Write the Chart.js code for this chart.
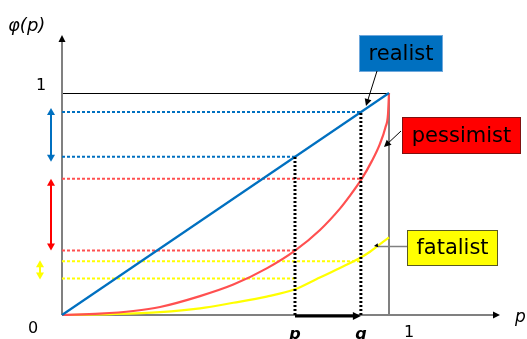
<!DOCTYPE html>
<html>
<head>
<meta charset="utf-8">
<script src="https://cdn.jsdelivr.net/npm/chart.js@4/dist/chart.umd.min.js"></script>
<style>
html,body{margin:0;padding:0;background:#fff;}
#wrap{width:527px;height:339px;position:relative;}
</style>
</head>
<body>
<div id="wrap"><canvas id="c"></canvas></div>
<script>
// ---- data ----
const pValue = 0.7125;
const qValue = 0.914;
const realistX = [0, 1];
const realistY = [0, 1];
const pessimistX = [0, 0.116, 0.218, 0.3, 0.422, 0.524, 0.626, 0.7125, 0.789, 0.85, 0.879, 0.917, 0.947, 0.972, 0.989, 0.997, 1];
const pessimistY = [0, 0.006, 0.018, 0.036, 0.085, 0.137, 0.21, 0.29, 0.383, 0.479, 0.534, 0.614, 0.692, 0.77, 0.845, 0.905, 1];
const fatalistX = [0, 0.15, 0.3, 0.422, 0.524, 0.626, 0.7125, 0.779, 0.85, 0.911, 0.942, 1];
const fatalistY = [0, 0.004, 0.013, 0.030, 0.055, 0.083, 0.116, 0.162, 0.212, 0.257, 0.285, 0.35];
const realistLevels = [0.7125, 0.914];     // at p, at q
const pessimistLevels = [0.29, 0.614];     // at p, at q
const fatalistLevels = [0.164, 0.242];     // at p, at q
const xTickLabels = ['p', 'q', '1'];
const yTickLabels = ['0', '1'];
const seriesNames = ['realist', 'pessimist', 'fatalist'];

const BLUE = '#0070C0', RED = '#FF5050', YEL = '#FFFF00';

function pts(xs, ys){ return xs.map((x,i)=>({x:x, y:ys[i]})); }
function hline(level, xEnd){ return [{x:0,y:level},{x:xEnd,y:level}]; }

const datasets = [
  {data: pts(realistX, realistY), borderColor: BLUE, borderWidth: 2.2, order: 1},
  {data: pts(pessimistX, pessimistY), borderColor: RED, borderWidth: 2.2, cubicInterpolationMode: 'monotone', order: 1},
  {data: pts(fatalistX, fatalistY), borderColor: YEL, borderWidth: 2.2, cubicInterpolationMode: 'monotone', order: 1},
  {data: hline(realistLevels[0], pValue), borderColor: BLUE, borderWidth: 2, borderDash: [3,2], order: 2},
  {data: hline(realistLevels[1], qValue), borderColor: BLUE, borderWidth: 2, borderDash: [3,2], order: 2},
  {data: hline(pessimistLevels[0], pValue), borderColor: RED, borderWidth: 2, borderDash: [3,2], order: 2},
  {data: hline(pessimistLevels[1], qValue), borderColor: RED, borderWidth: 2, borderDash: [3,2], order: 2},
  {data: hline(fatalistLevels[0], pValue), borderColor: YEL, borderWidth: 2, borderDash: [3,2], order: 2},
  {data: hline(fatalistLevels[1], qValue), borderColor: YEL, borderWidth: 2, borderDash: [3,2], order: 2},
  {data: [{x:pValue,y:0},{x:pValue,y:realistLevels[0]}], borderColor: '#000', borderWidth: 3, borderDash: [2,2], order: 0},
  {data: [{x:qValue,y:0},{x:qValue,y:realistLevels[1]}], borderColor: '#000', borderWidth: 3, borderDash: [2,2], order: 0}
].map(d => Object.assign({pointRadius: 0, fill: false, tension: 0}, d));

function arrowHead(ctx, x1, y1, x2, y2, len, half, color){
  const a = Math.atan2(y2-y1, x2-x1);
  ctx.save();
  ctx.fillStyle = color;
  ctx.beginPath();
  ctx.moveTo(x2, y2);
  ctx.lineTo(x2 - len*Math.cos(a) + half*Math.sin(a), y2 - len*Math.sin(a) - half*Math.cos(a));
  ctx.lineTo(x2 - len*Math.cos(a) - half*Math.sin(a), y2 - len*Math.sin(a) + half*Math.cos(a));
  ctx.closePath();
  ctx.fill();
  ctx.restore();
}
function arrow(ctx, x1, y1, x2, y2, color, w, len, half){
  ctx.save();
  ctx.strokeStyle = color; ctx.lineWidth = w;
  const a = Math.atan2(y2-y1, x2-x1);
  ctx.beginPath(); ctx.moveTo(x1, y1); ctx.lineTo(x2 - len*0.6*Math.cos(a), y2 - len*0.6*Math.sin(a)); ctx.stroke();
  ctx.restore();
  arrowHead(ctx, x1, y1, x2, y2, len, half, color);
}
function dblArrow(ctx, x, y1, y2, color){
  ctx.save();
  ctx.strokeStyle = color; ctx.lineWidth = 2;
  ctx.beginPath(); ctx.moveTo(x, y1+5); ctx.lineTo(x, y2-5); ctx.stroke();
  ctx.restore();
  arrowHead(ctx, x, y2, x, y1, 7, 4, color);
  arrowHead(ctx, x, y1, x, y2, 7, 4, color);
}
function box(ctx, x, y, w, h, fill, stroke, text){
  ctx.save();
  ctx.fillStyle = fill; ctx.fillRect(x, y, w, h);
  ctx.strokeStyle = stroke; ctx.lineWidth = 1; ctx.strokeRect(x+0.5, y+0.5, w-1, h-1);
  ctx.fillStyle = '#000'; ctx.font = '21px "DejaVu Sans"';
  ctx.textAlign = 'center'; ctx.textBaseline = 'middle';
  ctx.fillText(text, x + w/2, y + h/2 + 1);
  ctx.restore();
}

const decor = {
  id: 'decor',
  beforeDatasetsDraw(chart){
    const ctx = chart.ctx, xs = chart.scales.x, ys = chart.scales.y;
    const X = v => xs.getPixelForValue(v), Y = v => ys.getPixelForValue(v);
    ctx.save();
    // frame
    ctx.strokeStyle = '#000'; ctx.lineWidth = 1;
    ctx.beginPath(); ctx.moveTo(X(0), Math.round(Y(1))+0.5); ctx.lineTo(X(1), Math.round(Y(1))+0.5); ctx.stroke();
    ctx.strokeStyle = '#808080'; ctx.lineWidth = 2;
    ctx.beginPath(); ctx.moveTo(X(1), Y(1)); ctx.lineTo(X(1), Y(0)); ctx.stroke();
    // axes
    ctx.beginPath(); ctx.moveTo(X(0), Y(0)); ctx.lineTo(X(0), 40); ctx.stroke();
    ctx.beginPath(); ctx.moveTo(X(0), Y(0)); ctx.lineTo(494, Y(0)); ctx.stroke();
    ctx.restore();
    arrowHead(ctx, X(0), 60, X(0), 35, 7, 3.5, '#000');
    arrowHead(ctx, 470, Y(0), 500, Y(0), 7, 3.5, '#000');
  },
  afterDatasetsDraw(chart){
    const ctx = chart.ctx, xs = chart.scales.x, ys = chart.scales.y;
    const X = v => xs.getPixelForValue(v), Y = v => ys.getPixelForValue(v);
    // p -> q arrow on the x axis
    arrow(ctx, X(pValue), Y(0)+1, X(qValue), Y(0)+1, '#000', 3, 8, 4);
    // left double arrows
    dblArrow(ctx, 51, Y(realistLevels[1])-4, Y(realistLevels[0])+5, BLUE);
    dblArrow(ctx, 51, Y(pessimistLevels[1]), Y(pessimistLevels[0]), '#FF0000');
    dblArrow(ctx, 40, Y(fatalistLevels[1])-1, Y(fatalistLevels[0])+1, YEL);
    // label boxes
    box(ctx, 359, 35, 84, 37, BLUE, '#6fa8dc', seriesNames[0]);
    arrow(ctx, 377, 71, 366, 106, '#000', 1, 7, 3.5);
    box(ctx, 402, 117, 119, 37, '#FF0000', '#7f1010', seriesNames[1]);
    arrow(ctx, 401, 131, 384, 147, '#000', 1, 7, 3.5);
    box(ctx, 407, 230, 91, 36, YEL, '#5a5a20', seriesNames[2]);
    ctx.save();
    ctx.strokeStyle = '#808080'; ctx.lineWidth = 1.5;
    ctx.beginPath(); ctx.moveTo(407, 246.5); ctx.lineTo(378, 246.5); ctx.stroke();
    ctx.restore();
    arrowHead(ctx, 380, 245, 374, 246, 4, 2, '#000');
    // texts
    ctx.save();
    ctx.fillStyle = '#000';
    ctx.font = '16px "DejaVu Sans"';
    ctx.textAlign = 'center'; ctx.textBaseline = 'alphabetic';
    ctx.fillText(yTickLabels[0], 33, 333);
    ctx.fillText(yTickLabels[1], 41, 90);
    ctx.fillText(xTickLabels[2], X(1)+20, 337);
    ctx.font = 'italic bold 16px "DejaVu Sans"';
    ctx.fillText(xTickLabels[0], X(pValue), 339);
    ctx.fillText(xTickLabels[1], X(qValue), 339);
    ctx.font = 'italic 17px "DejaVu Sans"';
    ctx.textAlign = 'left';
    ctx.fillText('p', 515, 322);
    ctx.font = 'italic 18px "DejaVu Sans"';
    ctx.fillText('\u03C6(p)', 8, 31);
    ctx.restore();
  }
};

new Chart(document.getElementById('c'), {
  type: 'line',
  data: {datasets},
  options: {
    responsive: true, maintainAspectRatio: false, animation: false,
    layout: {padding: 0},
    plugins: {legend: {display: false}, tooltip: {enabled: false}},
    scales: {
      x: {type: 'linear', display: false, min: -62/327, max: 465/327},
      y: {type: 'linear', display: false, min: -24/222, max: 315/222}
    }
  },
  plugins: [decor]
});
</script>
</body>
</html>
